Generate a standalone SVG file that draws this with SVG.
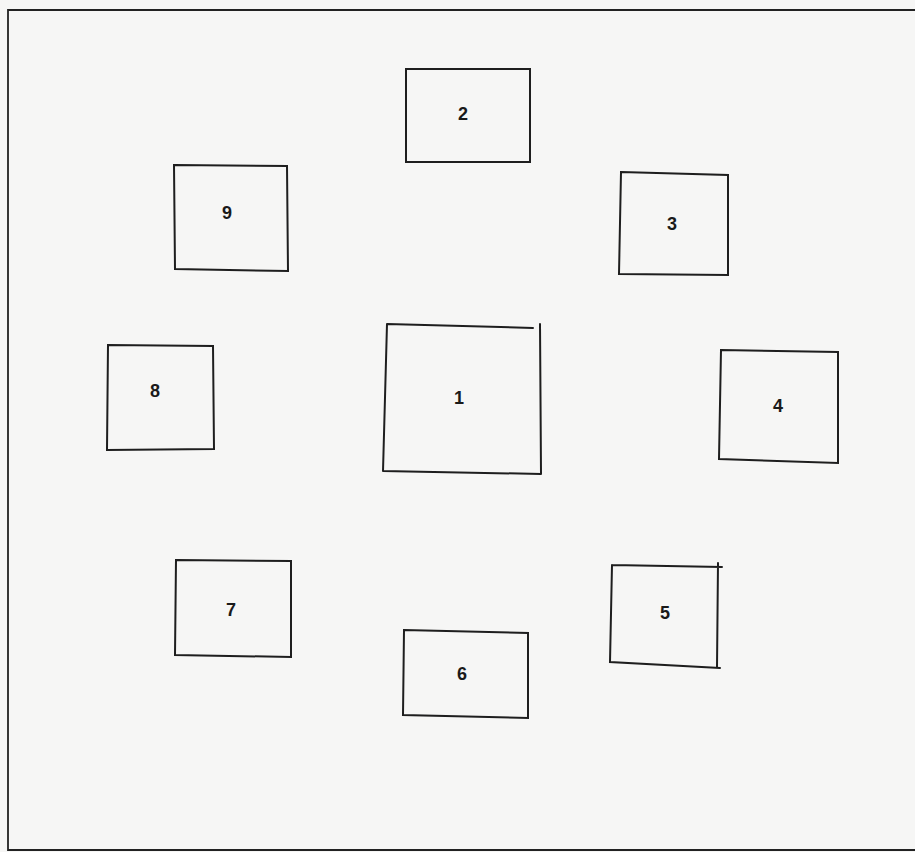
<svg xmlns="http://www.w3.org/2000/svg" width="915" height="852" viewBox="0 0 915 852">
<style>
.bx{fill:none;stroke:#1e1e1e;stroke-width:2;stroke-linecap:round}
.fr{fill:none;stroke:#222;stroke-width:1.8}
.lb{font-family:"Liberation Sans",Arial,sans-serif;font-weight:bold;font-size:18px;fill:#1a1a1a;text-anchor:middle;dominant-baseline:central}
</style>
<rect x="0" y="0" width="915" height="852" fill="#f6f6f5"/>
<path class="fr" d="M915,10 L8,10 L8,850 L915,850"/>
<g id="node1"><path class="bx" d="M387,324 L533,328 M540,324 L541,474 M541,474 L383,471 M383,471 L387,324"/><text class="lb" x="459" y="398">1</text></g>
<g id="node2"><rect class="bx" x="406" y="69" width="124" height="93"/><text class="lb" x="463" y="114">2</text></g>
<g id="node3"><path class="bx" d="M621,172 L728,175 L728,275 L619,274 Z"/><text class="lb" x="672" y="224">3</text></g>
<g id="node4"><path class="bx" d="M721,350 L838,352 L838,463 L719,459 Z"/><text class="lb" x="778" y="406">4</text></g>
<g id="node5"><path class="bx" d="M612,565 L722,567 M718,563 L717,667 M720,668 L610,662 L612,565"/><text class="lb" x="665" y="613">5</text></g>
<g id="node6"><path class="bx" d="M404,630 L528,633 L528,718 L403,715 Z"/><text class="lb" x="462" y="674">6</text></g>
<g id="node7"><path class="bx" d="M176,560 L291,561 L291,657 L175,655 Z"/><text class="lb" x="231" y="610">7</text></g>
<g id="node8"><path class="bx" d="M108,345 L213,346 L214,449 L107,450 Z"/><text class="lb" x="155" y="391">8</text></g>
<g id="node9"><path class="bx" d="M174,165 L287,166 L288,271 L175,269 Z"/><text class="lb" x="227" y="213">9</text></g>
<g id="connectors"></g>
</svg>
